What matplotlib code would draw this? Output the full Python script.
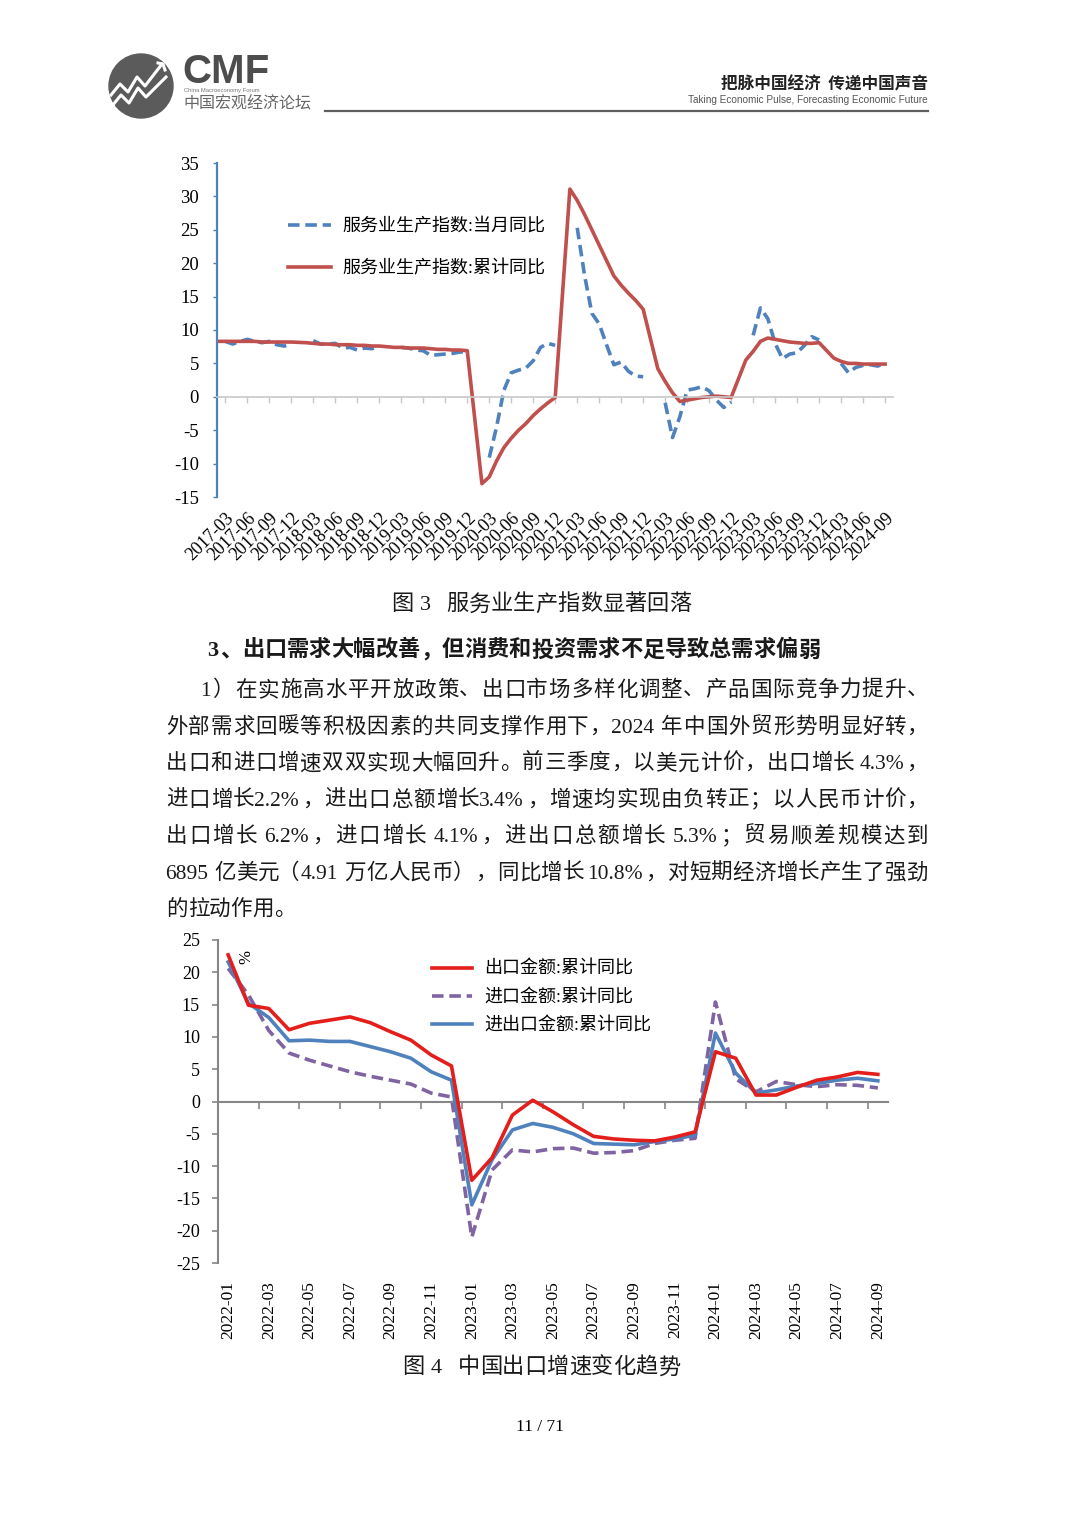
import re
import matplotlib
matplotlib.use('Agg')
import matplotlib.pyplot as plt
from matplotlib.lines import Line2D
from matplotlib.patches import Circle
import numpy as np
import pandas as pd

plt.rcParams['font.family'] = ['Liberation Serif', 'Noto Sans CJK SC']
plt.rcParams['axes.unicode_minus'] = False

# ---------------- data: 服务业生产指数 (monthly, 2017-02 .. 2024-09, None = no release)
svc_start, svc_end = '2017-02', '2024-09'
svc_cum = [  # 累计同比
    8.3, 8.3, 8.3, 8.3, 8.3, 8.3, 8.2, 8.2, 8.2, 8.2, 8.2,
    None, 8.1, 8.0, 7.9, 7.9, 7.8, 7.8, 7.8, 7.7, 7.7, 7.6, 7.6,
    None, 7.4, 7.4, 7.3, 7.3, 7.3, 7.2, 7.1, 7.1, 7.0, 7.0, 6.9,
    None, -13.0, -12.0, -9.6, -7.6, -6.2, -5.0, -4.0, -2.8, -1.8, -0.9, -0.1,
    None, 31.1, 29.4, 27.3, 25.0, 22.7, 20.4, 18.1, 16.7, 15.5, 14.4, 13.1,
    None, 4.2, 2.3, 0.6, -0.7, -0.5, -0.3, -0.1, 0.0, 0.1, 0.0, -0.1,
    None, 5.5, 6.8, 8.3, 8.8, 8.6, 8.4, 8.2, 8.1, 8.0, 8.0, 8.1,
    None, 5.8, 5.3, 5.0, 5.0, 4.9, 4.9, 4.9, 4.9,
]
svc_mon = [  # 当月同比
    None, 8.3, 7.9, 8.3, 8.6, 8.3, 8.1, 8.3, 7.8, 7.6, 7.8,
    None, None, 8.4, 7.9, 7.9, 8.0, 7.3, 7.4, 7.0, 7.3, 7.2, 7.6,
    None, None, 7.4, 7.3, 7.0, 6.9, 6.2, 6.3, 6.4, 6.5, 6.7, 6.8,
    None, None, -9.1, -4.5, 1.0, 3.6, 4.0, 4.3, 5.4, 7.4, 8.0, 7.7,
    None, None, 25.3, 18.2, 12.5, 10.9, 7.8, 4.8, 5.2, 3.8, 3.1, 3.0,
    None, None, -0.9, -6.1, -3.0, 1.0, 1.2, 1.5, 0.9, -0.5, -1.6, -0.8,
    None, None, 9.2, 13.3, 11.7, 8.0, 5.7, 6.4, 6.6, 7.7, 9.0, 8.5,
    None, None, 5.0, 3.6, 4.4, 4.7, 4.8, 4.6, 5.1,
]
svc_labels = ['服务业生产指数:当月同比', '服务业生产指数:累计同比']

# ---------------- data: 进出口金额累计同比 (monthly, 2022-01 .. 2024-09)
trade_start, trade_end = '2022-01', '2024-09'
export_cum = [22.7, 14.9, 14.4, 11.1, 12.1, 12.6, 13.1, 12.2, 10.8, 9.5, 7.2, 5.5,
              -12.2, -8.7, -2.1, 0.2, -1.6, -3.6, -5.4, -5.8, -6.0, -6.1, -5.5, -4.7,
              7.7, 6.7, 1.0, 1.0, 2.2, 3.3, 3.8, 4.5, 4.2]
import_cum = [20.6, 16.5, 11.0, 7.5, 6.4, 5.5, 4.6, 3.9, 3.3, 2.7, 1.3, 0.7,
              -21.0, -10.6, -7.5, -7.8, -7.3, -7.2, -8.0, -7.9, -7.6, -6.5, -6.0, -5.7,
              15.4, 3.5, 1.5, 3.1, 2.6, 2.3, 2.6, 2.5, 2.1]
total_cum = [21.6, 15.2, 13.0, 9.4, 9.5, 9.3, 9.3, 8.5, 7.7, 6.7, 4.6, 3.3,
             -16.0, -9.0, -4.4, -3.4, -4.0, -5.0, -6.5, -6.6, -6.7, -6.2, -5.8, -5.2,
             10.6, 4.4, 1.3, 1.8, 2.4, 2.8, 3.3, 3.6, 3.2]
trade_labels = ['出口金额:累计同比', '进口金额:累计同比', '进出口金额:累计同比']

# ---------------- page text
heading = '3、出口需求大幅改善，但消费和投资需求不足导致总需求偏弱'
para = [
    '1）在实施高水平开放政策、出口市场多样化调整、产品国际竞争力提升、',
    '外部需求回暖等积极因素的共同支撑作用下，2024 年中国外贸形势明显好转，',
    '出口和进口增速双双实现大幅回升。前三季度，以美元计价，出口增长 4.3%，',
    '进口增长2.2%，进出口总额增长3.4%，增速均实现由负转正；以人民币计价，',
    '出口增长 6.2%，进口增长 4.1%，进出口总额增长 5.3%；贸易顺差规模达到',
    '6895 亿美元（4.91 万亿人民币），同比增长 10.8%，对短期经济增长产生了强劲',
    '的拉动作用。',
]
cap1 = '图 3  服务业生产指数显著回落'
cap2 = '图 4  中国出口增速变化趋势'

W, H = 1080, 1527
fig = plt.figure(figsize=(W / 100, H / 100), dpi=100)
rend = fig.canvas.get_renderer()


def fx(x):
    return x / W


def fy(y):
    return 1 - y / H


def put_line(s, yc, x0, x1=None, size=15.5, weight='normal', center=None,
             color='#1a1a1a', space=0.2):
    toks = re.findall(r'[0-9A-Za-z.%/]+| |.', s)
    em = size * 100 / 72
    yb = fy(yc + 0.38 * em)
    items = []
    for t in toks:
        if t == ' ':
            items.append((None, space * em, 0))
        elif t.isascii():
            a = fig.text(0, yb, t, fontsize=size, fontweight=weight, va='baseline',
                         ha='left', color=color)
            w = a.get_window_extent(renderer=rend).width + 0.03 * em
            items.append((a, w, 0))
        else:
            if t in '（“‘《':
                a = fig.text(0, yb, t, fontsize=size, fontweight=weight, va='baseline',
                             ha='right', color=color)
                items.append((a, em, 0.92 * em))
            else:
                a = fig.text(0, yb, t, fontsize=size, fontweight=weight, va='baseline',
                             ha='left', color=color)
                items.append((a, em, 0.05 * em))
    total = sum(w for _, w, _ in items)
    gap = 0
    if x1 is not None and len(items) > 1:
        gap = max((x1 - x0 - total) / (len(items) - 1), 0)
    if center is not None:
        x0 = center - total / 2
    x = x0
    for a, w, off in items:
        if a is not None:
            a.set_x(fx(x + off))
        x += w + gap


# ---------------- header
axL = fig.add_axes([fx(106), fy(121), 70 / W, 70 / H])
axL.set_xlim(0, 70)
axL.set_ylim(0, 70)
axL.axis('off')
axL.add_patch(Circle((35, 35), 32, color='#5b5b5b'))
axL.plot([5, 14, 22, 31, 39, 56], [26, 37, 29, 44, 35, 57], color='white', lw=2.2)
axL.plot([6, 15, 23, 32, 40, 60], [15, 26, 18, 33, 24, 44], color='white', lw=2.2)
axL.plot([52, 57, 59], [58, 57, 51], color='white', lw=2.2)
fig.text(fx(182), fy(83), 'CMF', family='Liberation Sans', fontweight='bold',
         fontsize=29, color='#4d4d4d', va='baseline')
fig.text(fx(184), fy(92), 'China Macroeconomy Forum', family='Liberation Sans',
         fontsize=4.2, color='#777777', va='baseline')
fig.text(fx(183), fy(104), '中国宏观经济论坛', family='Noto Sans CJK SC', fontsize=11.5,
         color='#666666', va='center')
fig.text(fx(928), fy(84), '把脉中国经济  传递中国声音', family='Noto Sans CJK SC',
         fontweight='bold', fontsize=12, color='#222222', va='center', ha='right')
fig.text(fx(928), fy(100), 'Taking Economic Pulse, Forecasting Economic Future',
         family='Liberation Sans', fontsize=7.2, color='#555555', va='center', ha='right')
fig.add_artist(Line2D([fx(325), fx(928)], [fy(111), fy(111)], color='#5f5f5f', lw=1.6))

# ---------------- chart 1
months1 = pd.period_range(svc_start, svc_end, freq='M')
x1 = np.arange(len(months1))
cum = np.array(svc_cum, dtype=float)
mon = np.array(svc_mon, dtype=float)

ax1 = fig.add_axes([fx(217), fy(497), (893 - 217) / W, (497 - 163) / H])
ax1.plot(x1, mon, color='#4F81BD', lw=2.6, ls=(0, (3.2, 1.6)), label=svc_labels[0])
ok = ~np.isnan(cum)
ax1.plot(x1[ok], cum[ok], color='#C0504D', lw=2.6, solid_joinstyle='round',
         label=svc_labels[1])
ax1.set_xlim(-0.14, 92.08)
ax1.set_ylim(-15, 35)
ax1.set_yticks(range(-15, 36, 5))
ax1.tick_params(axis='y', labelsize=13.5, length=3, width=1, color='#4F81BD', pad=10)
for s in ['top', 'right']:
    ax1.spines[s].set_visible(False)
ax1.spines['left'].set_color('#4F81BD')
ax1.spines['left'].set_linewidth(1.6)
ax1.spines['bottom'].set_position(('data', 0))
ax1.spines['bottom'].set_color('#C8C8C8')
ax1.spines['bottom'].set_linewidth(1.2)
qpos = [i for i, p in enumerate(months1) if p.month % 3 == 0]
qlab = [months1[i].strftime('%Y-%m') for i in qpos]
ax1.set_xticks(qpos)
ax1.tick_params(axis='x', length=4, width=1, color='#C8C8C8', labelbottom=False)
sec1 = ax1.secondary_xaxis('bottom')
sec1.set_xticks(qpos, qlab, rotation=45, ha='right', rotation_mode='anchor', fontsize=13)
sec1.tick_params(length=0, pad=9)
sec1.spines['bottom'].set_visible(False)
ax1.legend(loc='upper left', bbox_to_anchor=(fx(288), fy(218)),
           bbox_transform=fig.transFigure, frameon=False, fontsize=13,
           handlelength=2.4, handletextpad=0.6, labelspacing=1.4, borderpad=0,
           borderaxespad=0)
put_line(cap1, 602, 0, center=540, size=16, space=0.32)

# ---------------- text block
put_line(heading, 648, 207, size=16, weight='bold')
y0, dy = 688, 36.5
for k, line in enumerate(para):
    xs = 200 if k == 0 else 165
    if k < len(para) - 1:
        put_line(line, y0 + k * dy, xs, 927)
    else:
        put_line(line, y0 + k * dy, xs)

# ---------------- chart 2
months2 = pd.period_range(trade_start, trade_end, freq='M')
x2 = np.arange(len(months2))
ax2 = fig.add_axes([fx(218), fy(1263), (888 - 218) / W, (1263 - 940) / H])
ax2.plot(x2, import_cum, color='#8064A2', lw=2.6, ls=(0, (3.2, 1.6)), zorder=2,
         label=trade_labels[1])
ax2.plot(x2, total_cum, color='#4F81BD', lw=2.6, zorder=3, label=trade_labels[2])
ax2.plot(x2, export_cum, color='#E31E1B', lw=2.6, zorder=4, label=trade_labels[0])
ax2.set_xlim(-0.5, len(months2) - 0.5)
ax2.set_ylim(-25, 25)
ax2.set_yticks(range(-25, 26, 5))
ax2.tick_params(axis='y', labelsize=13, length=4, width=1.2, color='#868686', pad=9)
for s in ['top', 'right']:
    ax2.spines[s].set_visible(False)
ax2.spines['left'].set_color('#868686')
ax2.spines['left'].set_linewidth(1.5)
ax2.spines['bottom'].set_position(('data', 0))
ax2.spines['bottom'].set_color('#868686')
ax2.spines['bottom'].set_linewidth(1.5)
ax2.set_xticks(np.arange(1.5, len(months2), 2))
ax2.tick_params(axis='x', length=5, width=1.2, color='#868686', labelbottom=False)
lpos = list(range(0, len(months2), 2))
sec2 = ax2.secondary_xaxis('bottom')
sec2.set_xticks(lpos, [months2[i].strftime('%Y-%m') for i in lpos], rotation=90,
                fontsize=12.5)
sec2.tick_params(length=0, pad=13)
sec2.spines['bottom'].set_visible(False)
h, l = ax2.get_legend_handles_labels()
order = [2, 0, 1]
ax2.legend([h[i] for i in order], [l[i] for i in order], loc='upper left',
           bbox_to_anchor=(fx(432), fy(961)), bbox_transform=fig.transFigure,
           frameon=False, fontsize=13, handlelength=2.2, handletextpad=0.7,
           labelspacing=0.62, borderpad=0, borderaxespad=0)
fig.text(fx(241), fy(957), '%', fontsize=12, rotation=-90, ha='center', va='center')
put_line(cap2, 1365, 0, center=540, size=16, space=0.32)

fig.text(0.5, fy(1427), '11 / 71', fontsize=12.5, ha='center', va='center')

fig.savefig('out.png', dpi=100)
